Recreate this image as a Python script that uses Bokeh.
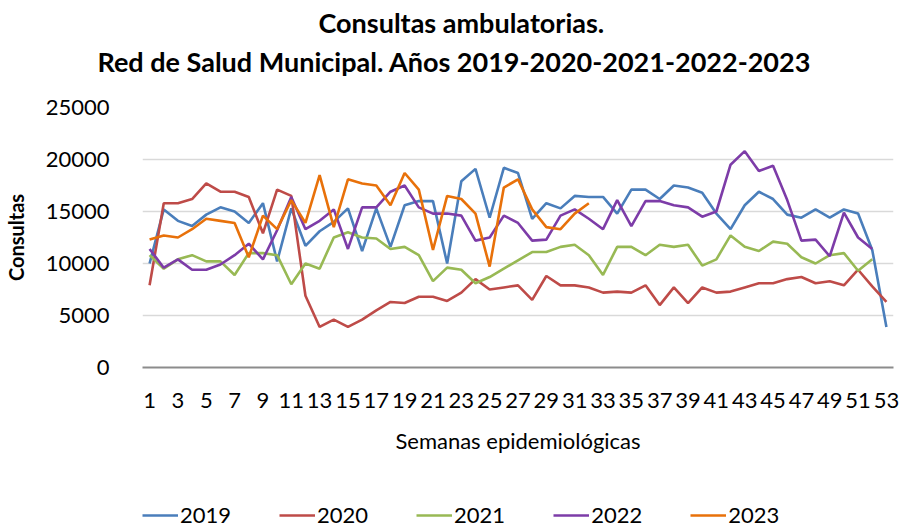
from bokeh.plotting import figure
from bokeh.models import Range1d, FixedTicker, Legend, LegendItem, Title
from bokeh.layouts import column
from bokeh.embed import file_html
from bokeh.resources import INLINE

weeks = list(range(1, 54))
x_ticks = list(range(1, 54, 2))
y_ticks = [0, 5000, 10000, 15000, 20000, 25000]

y2019 = [10000, 15200, 14100, 13600, 14700, 15400, 15000, 13900, 15800, 10200,
         15300, 11700, 13100, 14000, 15300, 11200, 15300, 11600, 15600, 16000,
         16000, 10000, 17900, 19100, 14400, 19200, 18700, 14300, 15800, 15300,
         16500, 16400, 16400, 14800, 17100, 17100, 16200, 17500, 17300, 16800,
         14800, 13300, 15600, 16900, 16200, 14700, 14400, 15200, 14400, 15200,
         14800, 11300, 3900]
y2020 = [7900, 15800, 15800, 16200, 17700, 16900, 16900, 16400, 12900, 17100,
         16500, 6900, 3900, 4600, 3900, 4600, 5500, 6300, 6200, 6800,
         6800, 6400, 7200, 8500, 7500, 7700, 7900, 6500, 8800, 7900,
         7900, 7700, 7200, 7300, 7200, 7900, 6000, 7700, 6200, 7700,
         7200, 7300, 7700, 8100, 8100, 8500, 8700, 8100, 8300, 7900,
         9400, 7800, 6300]
y2021 = [10800, 9500, 10400, 10800, 10200, 10200, 8900, 11000, 11000, 10800,
         8000, 10000, 9500, 12500, 13000, 12500, 12400, 11400, 11600, 10800,
         8300, 9600, 9400, 8100, 8700, 9500, 10300, 11100, 11100, 11600,
         11800, 10800, 8900, 11600, 11600, 10800, 11800, 11600, 11800, 9800,
         10400, 12700, 11600, 11200, 12100, 11900, 10600, 10000, 10800, 11000,
         9300, 10400]
y2022 = [11400, 9600, 10400, 9400, 9400, 9900, 10800, 11900, 10400, 13200,
         16400, 13300, 14100, 15200, 11400, 15400, 15400, 16900, 17500, 15400,
         14800, 14800, 14600, 12200, 12500, 14600, 13900, 12200, 12300, 14600,
         15200, 14300, 13300, 16100, 13600, 16000, 16000, 15600, 15400, 14500,
         15000, 19500, 20800, 18900, 19400, 16100, 12200, 12300, 10700, 14900,
         12500, 11400]
y2023 = [12300, 12700, 12500, 13300, 14300, 14100, 13900, 10600, 14600, 13300,
         16100, 13900, 18500, 13500, 18100, 17700, 17500, 15600, 18700, 17100,
         11300, 16500, 16200, 14800, 9700, 17300, 18100, 15200, 13500, 13300,
         14800, 15800]

series = [("2019", y2019, "#4A7EBB"), ("2020", y2020, "#BE4B48"),
          ("2021", y2021, "#98B954"), ("2022", y2022, "#7D3CA8"),
          ("2023", y2023, "#E8710A")]

title_lines = ["Consultas ambulatorias.",
               "Red de Salud Municipal. Años 2019-2020-2021-2022-2023"]

FONT = "Lato"
W = 904
NAN = float("nan")

# ---- main chart ----
p = figure(width=W, height=480, output_backend="svg", toolbar_location=None,
           title=None,
           x_range=Range1d(0.5, 53.5), y_range=Range1d(0, 25000),
           min_border_left=134, min_border_right=11, min_border_top=107,
           min_border_bottom=113)
p.outline_line_color = None

for name, ys, color in series:
    p.line(weeks[:len(ys)], ys, line_color=color, line_width=2.6)

p.xgrid.grid_line_color = None
p.ygrid.grid_line_color = "#D9D9D9"
p.ygrid.grid_line_width = 1.5
p.ygrid.ticker = FixedTicker(ticks=y_ticks)

p.xaxis.ticker = FixedTicker(ticks=x_ticks)
p.xaxis.axis_line_color = "#8C8C8C"
p.xaxis.axis_line_width = 2
p.xaxis.major_tick_line_color = None
p.xaxis.minor_tick_line_color = None
p.xaxis.major_label_standoff = 19
p.xaxis.major_label_text_font = FONT
p.xaxis.major_label_text_font_size = "22px"
p.xaxis.major_label_text_color = "#000000"
p.xaxis.axis_label = "Semanas epidemiológicas"
p.xaxis.axis_label_text_font = FONT
p.xaxis.axis_label_text_font_size = "22px"
p.xaxis.axis_label_text_font_style = "normal"
p.xaxis.axis_label_text_color = "#000000"
p.xaxis.axis_label_standoff = 16

p.yaxis.ticker = FixedTicker(ticks=y_ticks)
p.yaxis.axis_line_color = None
p.yaxis.major_tick_line_color = None
p.yaxis.minor_tick_line_color = None
p.yaxis.major_label_standoff = 27
p.yaxis.major_label_text_font = FONT
p.yaxis.major_label_text_font_size = "22px"
p.yaxis.major_label_text_color = "#000000"
p.yaxis.axis_label = "Consultas"
p.yaxis.axis_label_text_font = FONT
p.yaxis.axis_label_text_font_size = "20px"
p.yaxis.axis_label_text_font_style = "bold"
p.yaxis.axis_label_text_color = "#000000"
p.yaxis.axis_label_standoff = 15

# "above" panel: first added sits nearest the plot; a white spacer keeps
# the two title lines up at the top of the page
gap = Title(text=".", align="left", vertical_align="middle", standoff=16,
            text_font=FONT, text_font_size="10px", text_color="#FFFFFF")
t2 = Title(text=title_lines[1], align="left", offset=-45,
           vertical_align="middle", standoff=8, text_font=FONT,
           text_font_size="27px", text_font_style="bold",
           text_color="#000000")
t1 = Title(text=title_lines[0], align="left", offset=176,
           vertical_align="middle", standoff=0, text_font=FONT,
           text_font_size="27px", text_font_style="bold",
           text_color="#000000")
p.add_layout(gap, "above")
p.add_layout(t2, "above")
p.add_layout(t1, "above")

# ---- legend block ----
bot = figure(width=W, height=51, output_backend="svg", toolbar_location=None,
             x_range=Range1d(0, 1), y_range=Range1d(0, 1),
             x_axis_location=None, y_axis_location=None, min_border=0,
             title=None)
bot.outline_line_color = None
bot.grid.visible = False
items = []
for name, ys, color in series:
    r = bot.line([NAN], [NAN], line_color=color, line_width=2.6)
    items.append(LegendItem(label=name, renderers=[r]))
legend = Legend(items=items, orientation="horizontal", location=(0, 3),
                padding=0, margin=0, spacing=48, label_standoff=2,
                glyph_width=36, glyph_height=20, label_height=20,
                label_text_font=FONT, label_text_font_size="22px",
                label_text_color="#000000", border_line_color=None,
                background_fill_alpha=0)
bot.add_layout(legend, "center")

layout = column(p, bot, spacing=0)
open("out.html", "w").write(file_html(layout, INLINE))
